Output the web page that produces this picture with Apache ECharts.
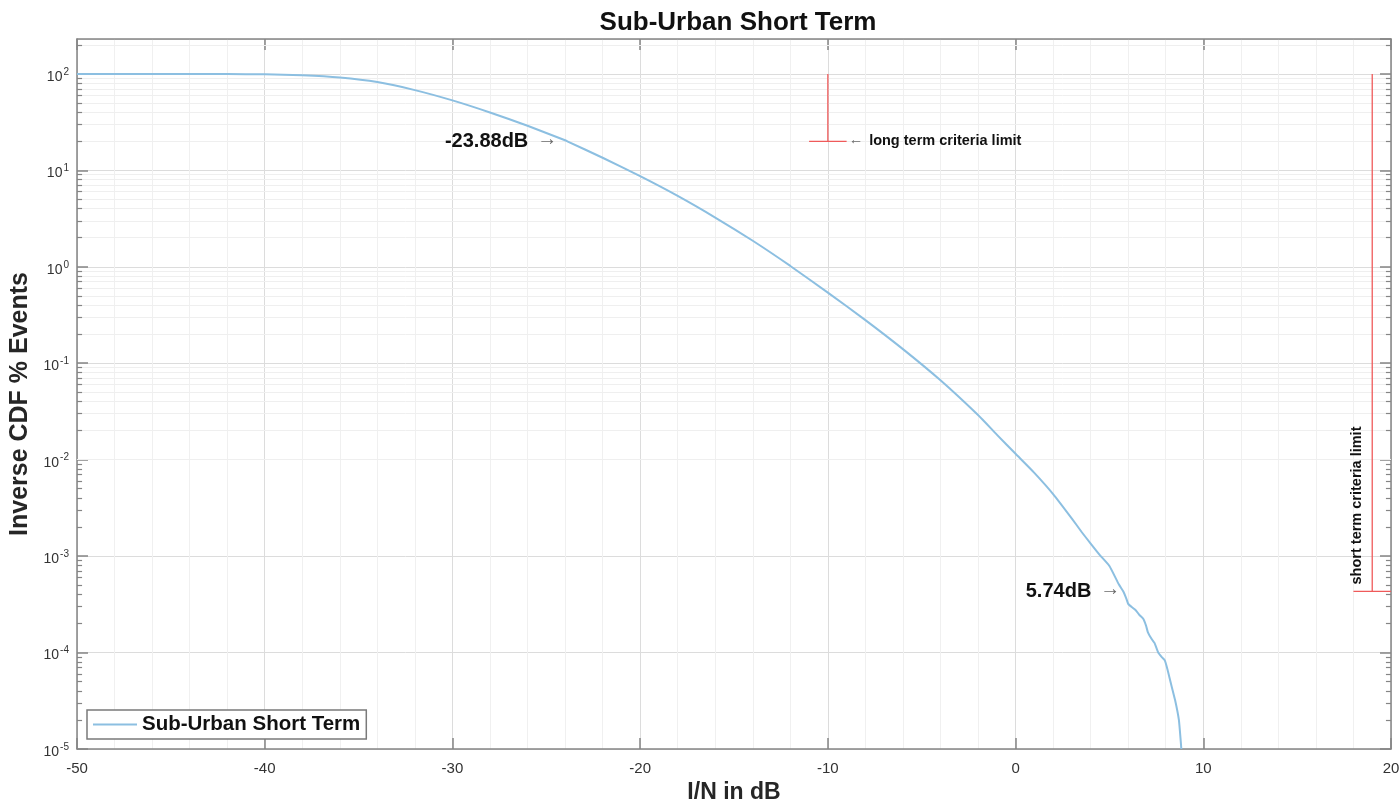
<!DOCTYPE html>
<html>
<head>
<meta charset="utf-8">
<script src="https://cdn.jsdelivr.net/npm/echarts@6/dist/echarts.min.js"></script>
<style>
  html, body { margin: 0; padding: 0; background: #ffffff; }
  #chart { width: 1399px; height: 804px; }
</style>
</head>
<body>
<div id="chart"></div>
<script>
// Inverse CDF of I/N (dB) for the sub-urban short-term scenario
const curveX = [-50, -45, -42, -40, -38, -36, -34, -32, -30, -28, -26, -24, -23.88, -22, -20, -18, -16, -14, -12, -10,
  -8, -6, -4, -2, -1, 0, 1, 2, 3, 3.5, 4, 4.5, 5, 5.5, 5.74, 5.9, 6.0, 6.2, 6.4, 6.6, 6.8, 6.95, 7.05, 7.25, 7.4, 7.6,
  7.8, 7.95, 8.1, 8.25, 8.5, 8.7, 8.8, 8.83];
const curveY = [100, 99.95, 99.65, 98.9, 96.6, 91.6, 82.2, 67.9, 53.1, 39.8, 29.0, 20.5, 20, 13.5, 8.7, 5.43, 3.24, 1.86,
  1.02, 0.54, 0.28, 0.14, 0.0665, 0.029, 0.0182, 0.0115, 0.0073, 0.0044, 0.00245, 0.0018, 0.00135, 0.00102, 0.00079,
  0.00051, 0.00043, 0.000363, 0.00032, 0.000295, 0.000275, 0.000245, 0.000224, 0.00019, 0.000162, 0.000138, 0.000126,
  0.0001, 0.000089, 0.000083, 0.000066, 0.00005, 0.000032, 0.00002, 0.000012, 0.00001];

// Criteria limit markers
const longLimitX = [-10, -10];
const longLimitY = [100, 20];
const longCapX = [-11, -9];
const longCapY = [20, 20];
const shortLimitX = [19, 19];
const shortLimitY = [100, 0.00043];
const shortCapX = [18, 20];
const shortCapY = [0.00043, 0.00043];

// Annotation anchors
const noteLongX = -23.88, noteLongY = 20, noteLongText = '-23.88dB';
const noteShortX = 5.74, noteShortY = 0.00043, noteShortText = '5.74dB';
const longLabelX = -9, longLabelY = 20, longLabelText = 'long term criteria limit';
const shortLabelX = 18, shortLabelY = 0.00043, shortLabelText = 'short term criteria limit';

// Axis ranges
const xMin = -50, xMax = 20, xStep = 10;
const yMin = 1e-5, yMax = 230;

const seriesName = 'Sub-Urban Short Term';
const FONT = '"Liberation Sans", Arial, Helvetica, sans-serif';

function pairs(xs, ys) { return xs.map((x, i) => [x, ys[i]]); }

// Log-axis minor grid values (2..9 x 10^n)
const minorVals = [];
for (let n = -5; n <= 2; n++) {
  for (let k = 2; k <= 9; k++) {
    const v = k * Math.pow(10, n);
    if (v < yMax) minorVals.push(v);
  }
}

const minorGridLines = minorVals.map(v => ({ yAxis: v }));
const minorTickW = 0.27;
const leftMinorTicks = minorVals.map(v => [{ coord: [xMin, v] }, { coord: [xMin + minorTickW, v] }]);
const rightMinorTicks = minorVals.map(v => [{ coord: [xMax - minorTickW, v] }, { coord: [xMax, v] }]);

const redStyle = { color: '#ef5a5a', width: 1.3 };
const frameColor = '#858585';
const textColor = '#111111';

const chart = echarts.init(document.getElementById('chart'), null, { renderer: 'canvas' });

function logLabel(v) {
  const e = Math.log10(v);
  const r = Math.round(e);
  if (Math.abs(e - r) > 1e-6) return '';
  return '{base|10}{sup|' + r + '}';
}

const boxAxis = {
  axisLine: { show: true, onZero: false, lineStyle: { color: frameColor, width: 1.5 } },
  axisTick: { show: true, inside: true, length: 11, lineStyle: { color: frameColor, width: 1.5 } }
};

chart.setOption({
  animation: false,
  backgroundColor: '#ffffff',
  title: {
    text: seriesName,
    left: 733,
    textAlign: 'center',
    top: 5,
    textStyle: { fontFamily: FONT, fontSize: 26, fontWeight: 'bold', color: textColor }
  },
  grid: { left: 77, right: 8, top: 39, bottom: 55, containLabel: false, outerBoundsMode: 'none' },
  legend: {
    data: [seriesName],
    left: 87,
    top: 710,
    orient: 'vertical',
    icon: 'rect',
    itemWidth: 44,
    itemHeight: 2,
    padding: [4, 6, 4, 6],
    borderColor: '#7a7a7a',
    borderWidth: 1.5,
    borderRadius: 0,
    backgroundColor: '#ffffff',
    textStyle: { fontFamily: FONT, fontSize: 20.5, fontWeight: 'bold', color: textColor }
  },
  xAxis: [
    Object.assign({
      type: 'value', min: xMin, max: xMax, interval: xStep,
      name: 'I/N in dB', nameLocation: 'middle', nameGap: 28,
      nameTextStyle: { fontFamily: FONT, fontSize: 23, fontWeight: 'bold', color: '#262626' },
      axisLabel: { margin: 12, fontFamily: FONT, fontSize: 15, color: '#333333' },
      splitLine: { show: true, lineStyle: { color: '#dcdcdc', width: 1 } },
      minorTick: { show: false, splitNumber: 5 },
      minorSplitLine: { show: true, lineStyle: { color: '#f0f0f0', width: 1 } }
    }, boxAxis),
    Object.assign({
      type: 'value', min: xMin, max: xMax, interval: xStep, position: 'top',
      axisLabel: { show: false },
      splitLine: { show: false }
    }, boxAxis)
  ],
  yAxis: [
    Object.assign({
      type: 'log', logBase: 10, min: yMin, max: yMax,
      name: 'Inverse CDF % Events', nameLocation: 'middle', nameGap: 33,
      nameTextStyle: { fontFamily: FONT, fontSize: 25, fontWeight: 'bold', color: '#262626', padding: [0, 20, 0, 0] },
      axisLabel: {
        margin: 8, color: '#333333',
        formatter: logLabel,
        showMaxLabel: false,
        rich: {
          base: { fontFamily: FONT, fontSize: 14, color: '#333333', padding: [6, 0, 0, 0] },
          sup: { fontFamily: FONT, fontSize: 10, color: '#333333', padding: [0, 0, 4, 1] }
        }
      },
      splitLine: { show: true, lineStyle: { color: '#dcdcdc', width: 1 } }
    }, boxAxis),
    Object.assign({
      type: 'log', logBase: 10, min: yMin, max: yMax, position: 'right',
      axisLabel: { show: false },
      splitLine: { show: false }
    }, boxAxis)
  ],
  series: [
    {
      // minor log grid
      name: 'grid-minor', type: 'line', data: [], silent: true, z: 1,
      markLine: {
        silent: true, symbol: 'none', animation: false,
        label: { show: false },
        lineStyle: { color: '#efefef', width: 1, type: 'solid' },
        data: minorGridLines
      }
    },
    {
      // minor ticks on the left and right frame
      name: 'tick-minor', type: 'line', data: [], silent: true, z: 4,
      markLine: {
        silent: true, symbol: 'none', animation: false,
        label: { show: false },
        lineStyle: { color: frameColor, width: 1.2, type: 'solid' },
        data: leftMinorTicks.concat(rightMinorTicks)
      }
    },
    {
      name: seriesName, type: 'line', data: pairs(curveX, curveY),
      symbol: 'none', smooth: 0.15, z: 5,
      lineStyle: { color: '#8cbfe1', width: 2 },
      itemStyle: { color: '#8cbfe1' }
    },
    { name: 'long-limit', type: 'line', data: pairs(longLimitX, longLimitY), symbol: 'none', lineStyle: redStyle, z: 5 },
    { name: 'long-cap', type: 'line', data: pairs(longCapX, longCapY), symbol: 'none', lineStyle: redStyle, z: 5 },
    { name: 'short-limit', type: 'line', data: pairs(shortLimitX, shortLimitY), symbol: 'none', lineStyle: redStyle, z: 5 },
    { name: 'short-cap', type: 'line', data: pairs(shortCapX, shortCapY), symbol: 'none', lineStyle: redStyle, z: 5 },
    {
      name: 'notes-left', type: 'scatter', symbolSize: 0, silent: true, z: 6,
      itemStyle: { opacity: 1 },
      data: [
        { value: [noteLongX, noteLongY, noteLongText], label: { distance: 10 } },
        { value: [noteShortX, noteShortY, noteShortText], label: { distance: 3 } }
      ],
      label: {
        show: true, position: 'left',
        formatter: p => '{b|' + p.value[2] + '}{a|\u2192}',
        rich: {
          b: { fontFamily: FONT, fontSize: 20, fontWeight: 'bold', color: textColor, padding: [0, 9, 0, 0] },
          a: { fontFamily: FONT, fontSize: 20, color: '#6a6a6a', padding: [0, 0, 3, 0] }
        }
      }
    },
    {
      name: 'note-long-limit', type: 'scatter', symbolSize: 0, silent: true, z: 6,
      itemStyle: { opacity: 1 },
      data: [[longLabelX, longLabelY, longLabelText]],
      label: {
        show: true, position: 'right', distance: 2,
        formatter: p => '{a|\u2190}{b|' + p.value[2] + '}',
        rich: {
          b: { fontFamily: FONT, fontSize: 14.5, fontWeight: 'bold', color: textColor, padding: [0, 0, 0, 6] },
          a: { fontFamily: FONT, fontSize: 14.5, color: '#6a6a6a', padding: [0, 0, 2, 0] }
        }
      }
    },
    {
      name: 'note-short-limit', type: 'scatter', symbolSize: 0, silent: true, z: 6,
      itemStyle: { opacity: 1 },
      data: [[shortLabelX, shortLabelY, shortLabelText]],
      label: {
        show: true, position: 'right', distance: 0, rotate: 90, offset: [7, 3.5],
        align: 'left', verticalAlign: 'middle',
        formatter: p => p.value[2],
        fontFamily: FONT, fontSize: 14.5, fontWeight: 'bold', color: textColor
      }
    }
  ]
});
</script>
</body>
</html>
